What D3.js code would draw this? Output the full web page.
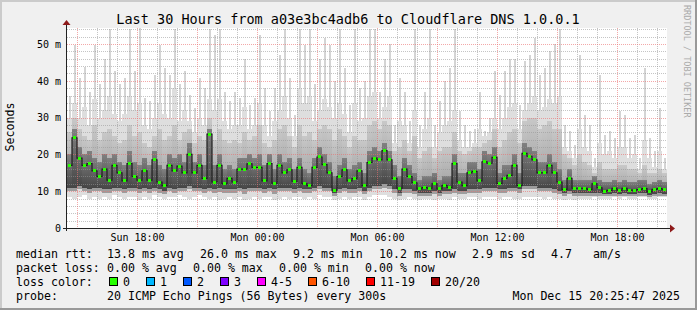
<!DOCTYPE html>
<html>
<head>
<meta charset="utf-8">
<script src="https://cdn.jsdelivr.net/npm/d3@7"></script>
<style>
  html, body { margin: 0; padding: 0; background: #f0f0f0; }
  svg { display: block; }
  text { font-family: "DejaVu Sans Mono", monospace; fill: #000; }
</style>
</head>
<body>
<div id="chart-area"></div>
<script>
// 15 minute steps, Sun Dec 14 14:30 -> Mon Dec 15 20:30 (UTC used for display)
var startTime = Date.UTC(2025, 11, 14, 14, 30);
var endTime = Date.UTC(2025, 11, 15, 20, 30);
var stepMin = 15;

// values in milliseconds
var median = [17.0, 24.5, 19.0, 17.0, 17.5, 15.5, 14.0, 16.0, 13.0, 17.0, 15.0, 12.8, 17.5, 14.0, 13.0, 15.5, 13.0, 18.5, 12.5, 11.5, 17.0, 15.5, 16.8, 15.0, 20.0, 15.0, 17.0, 13.5, 25.5, 12.5, 17.0,
    12.0, 13.5, 12.5, 16.0, 16.0, 17.4, 16.5, 16.5, 12.8, 17.5, 12.2, 17.0, 15.0, 15.8, 12.7, 16.5, 12.0, 11.5, 16.5, 19.3, 17.2, 15.0, 10.3, 14.0, 15.8, 12.8, 13.4, 15.5, 11.5, 17.8, 19.0,
    18.5, 21.0, 18.5, 13.5, 10.8, 16.0, 14.0, 12.3, 10.6, 11.0, 10.8, 12.0, 10.6, 11.6, 11.0, 17.5, 12.5, 11.5, 15.0, 15.4, 12.8, 18.0, 17.6, 19.2, 12.1, 13.5, 14.3, 17.0, 11.5, 20.3, 19.5,
    18.5, 15.0, 15.0, 17.0, 15.0, 12.5, 10.5, 13.5, 10.8, 10.8, 10.8, 10.5, 12.0, 10.9, 10.0, 10.2, 10.8, 10.3, 10.8, 10.3, 10.3, 10.5, 10.7, 9.8, 10.5, 10.7, 10.4];

// tallest single pings (thin spikes)
var peak = [35.8, 49.8, 40.8, 43.7, 37.0, 49.8, 39.0, 46.0, 54.0, 42.6, 39.0, 40.8, 54.0, 42.6, 54.3, 35.3, 34.4, 41.7, 49.8, 43.5, 41.7, 54.0, 39.0, 42.6, 36.2, 32.6, 40.8, 38.0, 54.0, 52.5, 54.0,
    37.0, 34.4, 37.0, 35.3, 46.0, 33.5, 35.3, 52.5, 38.0, 31.7, 38.0, 47.0, 54.0, 40.8, 30.8, 54.0, 49.8, 54.0, 39.0, 46.0, 51.6, 49.8, 40.0, 54.0, 43.5, 33.5, 54.0, 38.0, 40.0, 54.0, 54.0,
    37.0, 46.0, 50.0, 28.0, 40.8, 37.0, 29.0, 54.0, 28.0, 37.0, 54.0, 28.0, 34.4, 40.0, 43.5, 54.0, 31.7, 28.0, 26.3, 27.0, 37.0, 26.3, 29.9, 42.6, 36.2, 42.6, 46.0, 46.0, 33.5, 45.3, 47.0,
    51.6, 41.7, 43.5, 48.0, 50.0, 54.0, 28.0, 26.3, 22.6, 47.0, 30.8, 28.0, 19.0, 41.7, 25.4, 26.3, 24.5, 31.7, 30.8, 24.5, 25.4, 19.0, 43.5, 24.5, 20.8, 32.6, 19.0];

var hi = [30, 34, 30, 33, 28, 35, 30, 32, 36, 31, 29, 31, 36, 32, 34, 28, 27, 30, 34, 31, 30, 38, 29, 32, 29, 26, 30, 28, 35, 32, 35,
    29, 27, 28, 28, 33, 27, 28, 34, 28, 25, 29, 32, 36, 30, 25, 38, 34, 36, 29, 32, 35, 33, 30, 34, 31, 26, 34, 29, 30, 36, 37,
    30, 33, 36, 23, 29, 28, 23, 32, 22, 27, 30, 22, 26, 28, 29, 32, 24, 22, 22, 23, 27, 25, 26, 30, 27, 30, 33, 34, 27, 32, 34,
    36, 32, 33, 35, 34, 36, 22, 21, 19, 27, 22, 21, 16.5, 23, 20, 21, 19, 22, 22, 19, 20, 16, 24, 19, 16.5, 21, 16];

var mid = [26, 30, 27, 25, 24, 28, 24, 26, 27, 25, 23, 24, 28, 25, 26, 23, 22, 25, 27, 24, 25, 28, 24, 26, 27, 23, 25, 24, 30, 24, 27,
    24, 23, 24, 23, 26, 24, 25, 28, 23, 22, 24, 27, 28, 25, 22, 28, 25, 26, 24, 27, 28, 27, 24, 27, 25, 22, 25, 24, 24, 28, 29,
    27, 29, 28, 21, 22, 24, 21, 25, 19, 21, 22, 19, 21, 22, 22, 26, 21, 20, 21, 22, 22, 23, 24, 27, 22, 24, 26, 27, 23, 29, 30,
    30, 27, 28, 29, 27, 27, 20, 19, 17, 20, 18, 17, 15, 18, 16, 16, 16, 17, 17, 16, 16, 15, 17, 15, 15, 16, 15];

var dark = [20, 27, 22, 20, 21, 19, 18, 20, 19, 20, 18, 17, 21, 18, 17, 19, 17, 21, 17, 16, 20, 19, 20, 18, 23, 18, 20, 17, 27, 17, 20,
    16, 17, 16, 19, 19, 20, 19, 20, 17, 20, 16, 20, 18, 19, 16, 19, 16, 15, 19, 22, 20, 18, 14, 17, 19, 16, 17, 18, 15, 21, 22,
    21, 23, 21, 17, 14, 19, 17, 15, 13, 14, 14, 15, 13, 14, 14, 20, 15, 15, 18, 18, 16, 21, 20, 22, 15, 17, 17, 20, 15, 23, 22,
    21, 18, 18, 20, 18, 16, 13, 16, 13, 13, 13, 13, 14, 13, 12.5, 12.5, 13, 12.5, 13, 12.5, 12.5, 13, 13, 12, 12.5, 13, 12.5];

var low = [11, 11, 11.5, 11, 10.5, 11, 11, 10.5, 10.5, 11, 11, 10.5, 11, 11, 10.5, 11, 10.5, 11, 10.5, 10, 11, 10.5, 11, 11, 11.5, 11, 11, 10.5, 11, 10.5, 11,
    10.5, 10.5, 10.5, 11, 10.5, 11, 11, 11, 10.5, 11, 10.5, 11, 11, 11, 10.5, 11, 10.5, 10.5, 11, 11.5, 11, 11, 9.5, 10.5, 11, 10.5, 10.5, 11, 10, 11, 11.5,
    11.5, 12, 11.5, 10.5, 9.5, 10.5, 10.5, 10, 9.5, 9.5, 9.5, 10, 9.5, 10, 10, 10.5, 10, 10, 10.5, 10.5, 10.5, 11, 11, 11, 10.5, 10.5, 11, 11, 10.5, 11.5, 11.5,
    11.5, 11, 11, 11, 10.5, 10, 9.5, 10, 9.5, 9.5, 9.5, 9.5, 9.5, 9.5, 9.2, 9.3, 9.5, 9.3, 9.5, 9.3, 9.3, 9.4, 9.5, 9.0, 9.3, 9.5, 9.3];

var floor = [10, 10, 10.5, 10, 9.5, 10, 10, 9.5, 9.5, 10, 10, 9.5, 10, 10, 9.5, 10, 9.5, 10, 9.5, 9.2, 10, 9.5, 10, 10, 10.5, 10, 10, 9.5, 10, 9.5, 9.8,
    9.5, 9.5, 9.5, 10, 9.3, 10, 10, 10, 9.5, 10, 9.3, 10, 10, 10, 9.5, 10, 9.5, 9.5, 10, 10.5, 10, 10, 8.8, 9.5, 10, 9.5, 9.5, 10, 9.2, 10, 10.5,
    10.5, 11, 10.5, 9.5, 8.8, 9.5, 9.5, 9.2, 8.8, 8.8, 8.8, 9.2, 8.8, 9.2, 9.2, 9.5, 9.2, 9.2, 9.5, 9.5, 9.5, 10, 10, 10, 9.5, 9.5, 10, 10, 9.5, 10.5, 10.5,
    10.5, 10, 10, 10, 9.5, 9.2, 8.8, 9.2, 8.8, 8.8, 8.8, 8.8, 8.8, 8.8, 8.6, 8.7, 8.8, 8.7, 8.8, 8.7, 8.7, 8.7, 8.8, 8.5, 8.7, 8.8, 8.7];

var minv = [8.5, 8, 8.5, 9, 8, 8.5, 8, 8.5, 8, 9, 8.5, 8, 8.5, 8.5, 7.5, 8.5, 8, 9, 8.5, 8, 8.5, 8.5, 9, 8.5, 8, 8.5, 9, 8.5, 8, 8.5, 7.5,
    8, 8.5, 8, 8.5, 7.5, 8, 8.5, 8, 8.5, 8.5, 7.5, 8, 8.5, 8, 8.5, 8.5, 8, 8.5, 8, 9, 8.5, 8.5, 7.5, 8, 8.5, 8, 8.5, 8.5, 7.5, 8.5, 9,
    9, 9, 8.5, 8, 7.5, 8, 8.5, 8, 7.5, 8, 8, 7.5, 8, 8, 7.5, 8.5, 8, 8, 8.5, 8.5, 8, 8.5, 8.5, 8.5, 8, 8.5, 8.5, 8, 8, 8.5, 8.5,
    8.5, 8.5, 8, 8.5, 8, 8, 7.5, 8, 7.5, 8, 8, 8, 8.5, 8, 8, 8, 8.5, 8, 8.5, 8, 8, 8.5, 8.5, 8, 8, 8.5, 8.5];

var yTicks = [0, 10, 20, 30, 40, 50];
var titleText = "Last 30 Hours from a03e3bc4adb6 to Cloudflare DNS 1.0.0.1";

var rttLabels = ["13.8 ms avg", "26.0 ms max", "9.2 ms min", "10.2 ms now", "2.9 ms sd", "4.7", "am/s"];
var lossLabels = ["0.00 % avg", "0.00 % max", "0.00 % min", "0.00 % now"];
var lossNames = ["0", "1", "2", "3", "4-5", "6-10", "11-19", "20/20"];
var lossColors = ["#26ff00", "#00b8ff", "#0059ff", "#7e00ff", "#ff00ff", "#ff5500", "#ff0000", "#a10000"];
var probeText = "20 ICMP Echo Pings (56 Bytes) every 300s";
var stampText = "Mon Dec 15 20:25:47 2025";

var W = 697, H = 310;
var plotL = 67, plotR = 667, plotT = 28, plotB = 228;

var svg = d3.select("#chart-area")
    .append("svg")
    .attr("width", W)
    .attr("height", H);

// gradients for the smoke
var defs = svg.append("defs");
function grad(id, c1, c2) {
    var g = defs.append("linearGradient").attr("id", id)
        .attr("x1", 0).attr("y1", 0).attr("x2", 0).attr("y2", 1);
    g.append("stop").attr("offset", "0%").attr("stop-color", c1);
    g.append("stop").attr("offset", "100%").attr("stop-color", c2);
}
grad("gMid", "#c8c8c8", "#9c9c9c");
grad("gDark", "#808080", "#464646");

// frame
svg.append("rect").attr("x", 0).attr("y", 0).attr("width", W).attr("height", H).attr("fill", "#f0f0f0");
svg.append("rect").attr("x", 0).attr("y", 0).attr("width", W).attr("height", 2).attr("fill", "#cbcbcb");
svg.append("rect").attr("x", 0).attr("y", 0).attr("width", 2).attr("height", H).attr("fill", "#cbcbcb");
svg.append("rect").attr("x", 0).attr("y", H - 2).attr("width", W).attr("height", 2).attr("fill", "#999");
svg.append("rect").attr("x", W - 2).attr("y", 0).attr("width", 2).attr("height", H).attr("fill", "#999");

// canvas
svg.append("rect").attr("x", plotL).attr("y", plotT).attr("width", plotR - plotL).attr("height", plotB - plotT).attr("fill", "#fff");

var x = d3.scaleUtc()
    .domain([new Date(startTime), new Date(endTime)])
    .range([plotL, plotR]);

var y = d3.scaleLinear()
    .domain([0, 54.35])
    .range([plotB, plotT]);

var times = median.map(function (d, i) { return new Date(startTime + i * stepMin * 60000); });
var stepW = x(new Date(startTime + stepMin * 60000)) - x(new Date(startTime));

var smoke = svg.append("g").attr("shape-rendering", "crispEdges");

function band(lo, hiArr, color) {
    smoke.append("g").selectAll("rect")
        .data(times)
        .enter()
        .append("rect")
        .attr("x", function (d) { return x(d); })
        .attr("width", stepW)
        .attr("y", function (d, i) { return y(hiArr[i]); })
        .attr("height", function (d, i) { return Math.max(0, y(lo[i]) - y(hiArr[i])); })
        .attr("fill", color);
}

// thin spikes
smoke.append("g").selectAll("rect")
    .data(times)
    .enter()
    .append("rect")
    .attr("x", function (d) { return x(d) + 1.5; })
    .attr("width", 2)
    .attr("y", function (d, i) { return y(peak[i]); })
    .attr("height", function (d, i) { return Math.max(0, y(hi[i]) - y(peak[i])); })
    .attr("fill", "#d4d4d4");

band(minv, hi, "#dedede");
band(floor, mid, "url(#gMid)");
band(low, dark, "url(#gDark)");

// grid (drawn over the smoke like rrdtool)
var grid = svg.append("g").attr("shape-rendering", "crispEdges");
var minorY = d3.range(2, 55, 2).filter(function (v) { return v % 10 !== 0; });
grid.selectAll(".hmin").data(minorY).enter().append("line")
    .attr("x1", plotL).attr("x2", plotR)
    .attr("y1", function (d) { return Math.round(y(d)) + 0.5; })
    .attr("y2", function (d) { return Math.round(y(d)) + 0.5; })
    .attr("stroke", "rgba(150,150,150,0.55)").attr("stroke-dasharray", "1,1");
var hours = d3.utcHour.range(new Date(startTime), new Date(endTime));
grid.selectAll(".vmin").data(hours.filter(function (d) { return d.getUTCHours() % 3 !== 0; })).enter().append("line")
    .attr("y1", plotT).attr("y2", plotB)
    .attr("x1", function (d) { return Math.round(x(d)) + 0.5; })
    .attr("x2", function (d) { return Math.round(x(d)) + 0.5; })
    .attr("stroke", "rgba(150,150,150,0.55)").attr("stroke-dasharray", "1,1");
grid.selectAll(".hmaj").data(yTicks.slice(1)).enter().append("line")
    .attr("x1", plotL).attr("x2", plotR)
    .attr("y1", function (d) { return Math.round(y(d)) + 0.5; })
    .attr("y2", function (d) { return Math.round(y(d)) + 0.5; })
    .attr("stroke", "rgba(235,110,110,0.6)").attr("stroke-dasharray", "1,1");
grid.selectAll(".vmaj").data(hours.filter(function (d) { return d.getUTCHours() % 3 === 0; })).enter().append("line")
    .attr("y1", plotT).attr("y2", plotB)
    .attr("x1", function (d) { return Math.round(x(d)) + 0.5; })
    .attr("x2", function (d) { return Math.round(x(d)) + 0.5; })
    .attr("stroke", "rgba(235,110,110,0.6)").attr("stroke-dasharray", "1,1");

// median
var medLine = d3.line()
    .x(function (d, i) { return x(times[i]) + stepW / 2; })
    .y(function (d) { return y(d); })
    .curve(d3.curveStep);
svg.append("path")
    .datum(median)
    .attr("d", medLine)
    .attr("fill", "none")
    .attr("stroke", "#1e1e1e")
    .attr("stroke-width", 1.2);

svg.append("g").attr("shape-rendering", "crispEdges").selectAll("rect")
    .data(median)
    .enter()
    .append("rect")
    .attr("x", function (d, i) { return Math.round(x(times[i]) + stepW / 2 - 1.5); })
    .attr("y", function (d) { return Math.round(y(d) - 1.5); })
    .attr("width", 3)
    .attr("height", 3)
    .attr("fill", lossColors[0]);

// axes
var axisG = svg.append("g").attr("shape-rendering", "crispEdges");
axisG.append("line").attr("x1", 63).attr("x2", 670).attr("y1", plotB + 0.5).attr("y2", plotB + 0.5).attr("stroke", "#222");
axisG.append("line").attr("x1", plotL - 0.5).attr("x2", plotL - 0.5).attr("y1", plotB + 3).attr("y2", 25).attr("stroke", "#222");
svg.append("path").attr("d", "M670,224.5 L675,228.5 L670,232.5 Z").attr("fill", "#8e1a1a");
svg.append("path").attr("d", "M62.5,25 L66.5,20 L70.5,25 Z").attr("fill", "#8e1a1a");

var yAxis = d3.axisLeft(y)
    .tickValues(yTicks)
    .tickSize(0)
    .tickPadding(6)
    .tickFormat(function (d) { return d === 0 ? "0" : d + " m"; });
var yg = svg.append("g").attr("transform", "translate(" + plotL + ",0)").call(yAxis);
yg.select(".domain").remove();
yg.selectAll("text").style("font-family", "DejaVu Sans Mono").style("font-size", "10px").attr("fill", "#000");

var xAxis = d3.axisBottom(x)
    .ticks(d3.utcHour.every(6))
    .tickSize(0)
    .tickPadding(6)
    .tickFormat(d3.utcFormat("%a %H:%M"));
var xg = svg.append("g").attr("transform", "translate(0," + plotB + ")").call(xAxis);
xg.select(".domain").remove();
xg.selectAll("text").style("font-family", "DejaVu Sans Mono").style("font-size", "10px").attr("fill", "#000");

// title and side labels
svg.append("text").attr("x", 348).attr("y", 24).attr("text-anchor", "middle")
    .style("font-size", "13.5px").text(titleText);
svg.append("text").attr("transform", "translate(14,127) rotate(-90)").attr("text-anchor", "middle")
    .style("font-size", "11.6px").text("Seconds");
svg.append("text").attr("transform", "translate(684,5) rotate(90)")
    .style("font-size", "8.5px").style("fill", "#aaa").text("RRDTOOL / TOBI OETIKER");

// legend
var lg = svg.append("g").style("font-size", "11.6px").attr("xml:space", "preserve");
var rows = [258, 272, 286, 300];
lg.append("text").attr("x", 16).attr("y", rows[0]).text("median rtt:");
var rttX = [107, 200, 293, 379, 472, 551, 593];
rttLabels.forEach(function (t, i) {
    lg.append("text").attr("x", rttX[i]).attr("y", rows[0]).text(t);
});
lg.append("text").attr("x", 16).attr("y", rows[1]).text("packet loss:");
var lossX = [107, 193, 279, 365];
lossLabels.forEach(function (t, i) {
    lg.append("text").attr("x", lossX[i]).attr("y", rows[1]).text(t);
});
lg.append("text").attr("x", 16).attr("y", rows[2]).text("loss color:");
var sx = 109;
lossNames.forEach(function (t, i) {
    lg.append("rect").attr("x", sx + 0.5).attr("y", 277.5).attr("width", 8).attr("height", 8)
        .attr("fill", lossColors[i]).attr("stroke", "#000");
    lg.append("text").attr("x", sx + 14).attr("y", rows[2]).text(t);
    sx += 14 + t.length * 7 + 16;
});
lg.append("text").attr("x", 16).attr("y", rows[3]).text("probe:");
lg.append("text").attr("x", 107).attr("y", rows[3]).text(probeText);
lg.append("text").attr("x", 680).attr("y", rows[3]).attr("text-anchor", "end").text(stampText);
</script>
</body>
</html>
